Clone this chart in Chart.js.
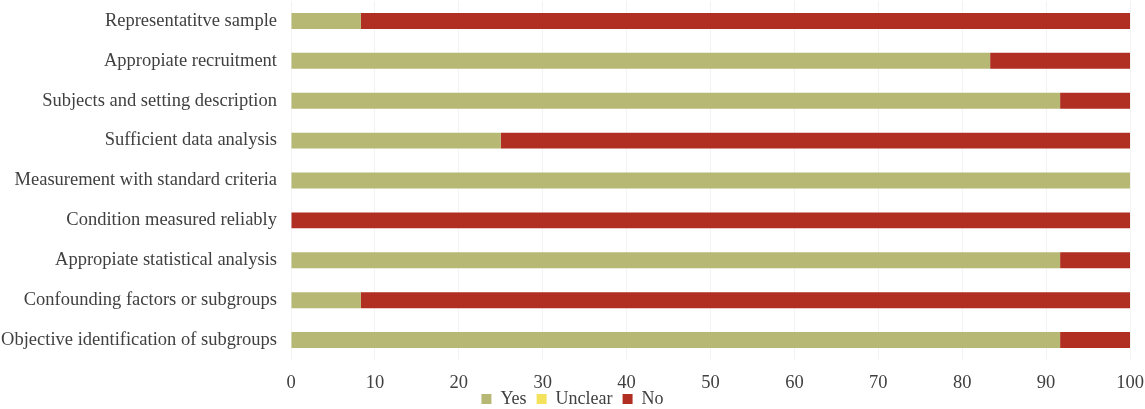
<!DOCTYPE html>
<html>
<head>
<meta charset="utf-8">
<script src="https://cdn.jsdelivr.net/npm/chart.js@4.4.1/dist/chart.umd.min.js"></script>
<style>
  html, body { margin:0; padding:0; background:#fff; }
  #wrap { width:1145px; height:409px; }
</style>
</head>
<body>
<div id="wrap"><canvas id="chart"></canvas></div>
<script>
const categories = [
  'Representatitve sample',
  'Appropiate recruitment',
  'Subjects and setting description',
  'Sufficient data analysis',
  'Measurement with standard criteria',
  'Condition measured reliably',
  'Appropiate statistical analysis',
  'Confounding factors or subgroups',
  'Objective identification of subgroups'
];
const yesValues     = [8.33, 83.33, 91.67, 25, 100, 0, 91.67, 8.33, 91.67];
const unclearValues = [0, 0, 0, 0, 0, 0, 0, 0, 0];
const noValues      = [91.67, 16.67, 8.33, 75, 0, 100, 8.33, 91.67, 8.33];
const xTicks = [0, 10, 20, 30, 40, 50, 60, 70, 80, 90, 100];

const fontFamily = '"Liberation Serif", "Times New Roman", serif';
const textColor = '#404040';

// let the x tick labels run below the thin axis box instead of being clipped
const tallXLabels = {
  id: 'tallXLabels',
  afterLayout(chart) { chart.scales.x.bottom = chart.height; }
};

const ctx = document.getElementById('chart').getContext('2d');
new Chart(ctx, {
  type: 'bar',
  data: {
    labels: categories,
    datasets: [
      { label:'Yes', data:yesValues, backgroundColor:'#b6b874' },
      { label:'Unclear', data:unclearValues, backgroundColor:'#f4e25c' },
      { label:'No', data:noValues, backgroundColor:'#b12e23' }
    ]
  },
  plugins: [tallXLabels],
  options: {
    indexAxis: 'y',
    responsive: true,
    maintainAspectRatio: false,
    animation: false,
    layout: { padding:{ left:0, right:0, top:1, bottom:-9 } },
    datasets: { bar: { categoryPercentage:0.8, barPercentage:0.5 } },
    plugins: {
      legend: {
        position: 'bottom',
        labels: {
          boxWidth: 10, boxHeight: 10, padding: 10,
          color: textColor,
          font: { family: fontFamily, size: 18 }
        }
      },
      tooltip: { enabled:false }
    },
    scales: {
      x: {
        stacked: true,
        min: 0, max: 100,
        afterBuildTicks: axis => { axis.ticks = xTicks.map(v => ({ value:v })); },
        afterFit: s => { s.height = 20; s.paddingLeft = 0; s.paddingRight = 15; },
        grid: { color:'#f3f3f3', drawTicks:false },
        border: { display:false },
        ticks: { color:textColor, padding:12, font:{ family:fontFamily, size:18.5 } }
      },
      y: {
        stacked: true,
        afterFit: s => { s.width = 291; s.paddingTop = 0; s.paddingBottom = 0; },
        grid: { display:false, drawTicks:false },
        border: { display:false },
        ticks: { color:textColor, padding:14, font:{ family:fontFamily, size:18.5 } }
      }
    }
  }
});
</script>
</body>
</html>
